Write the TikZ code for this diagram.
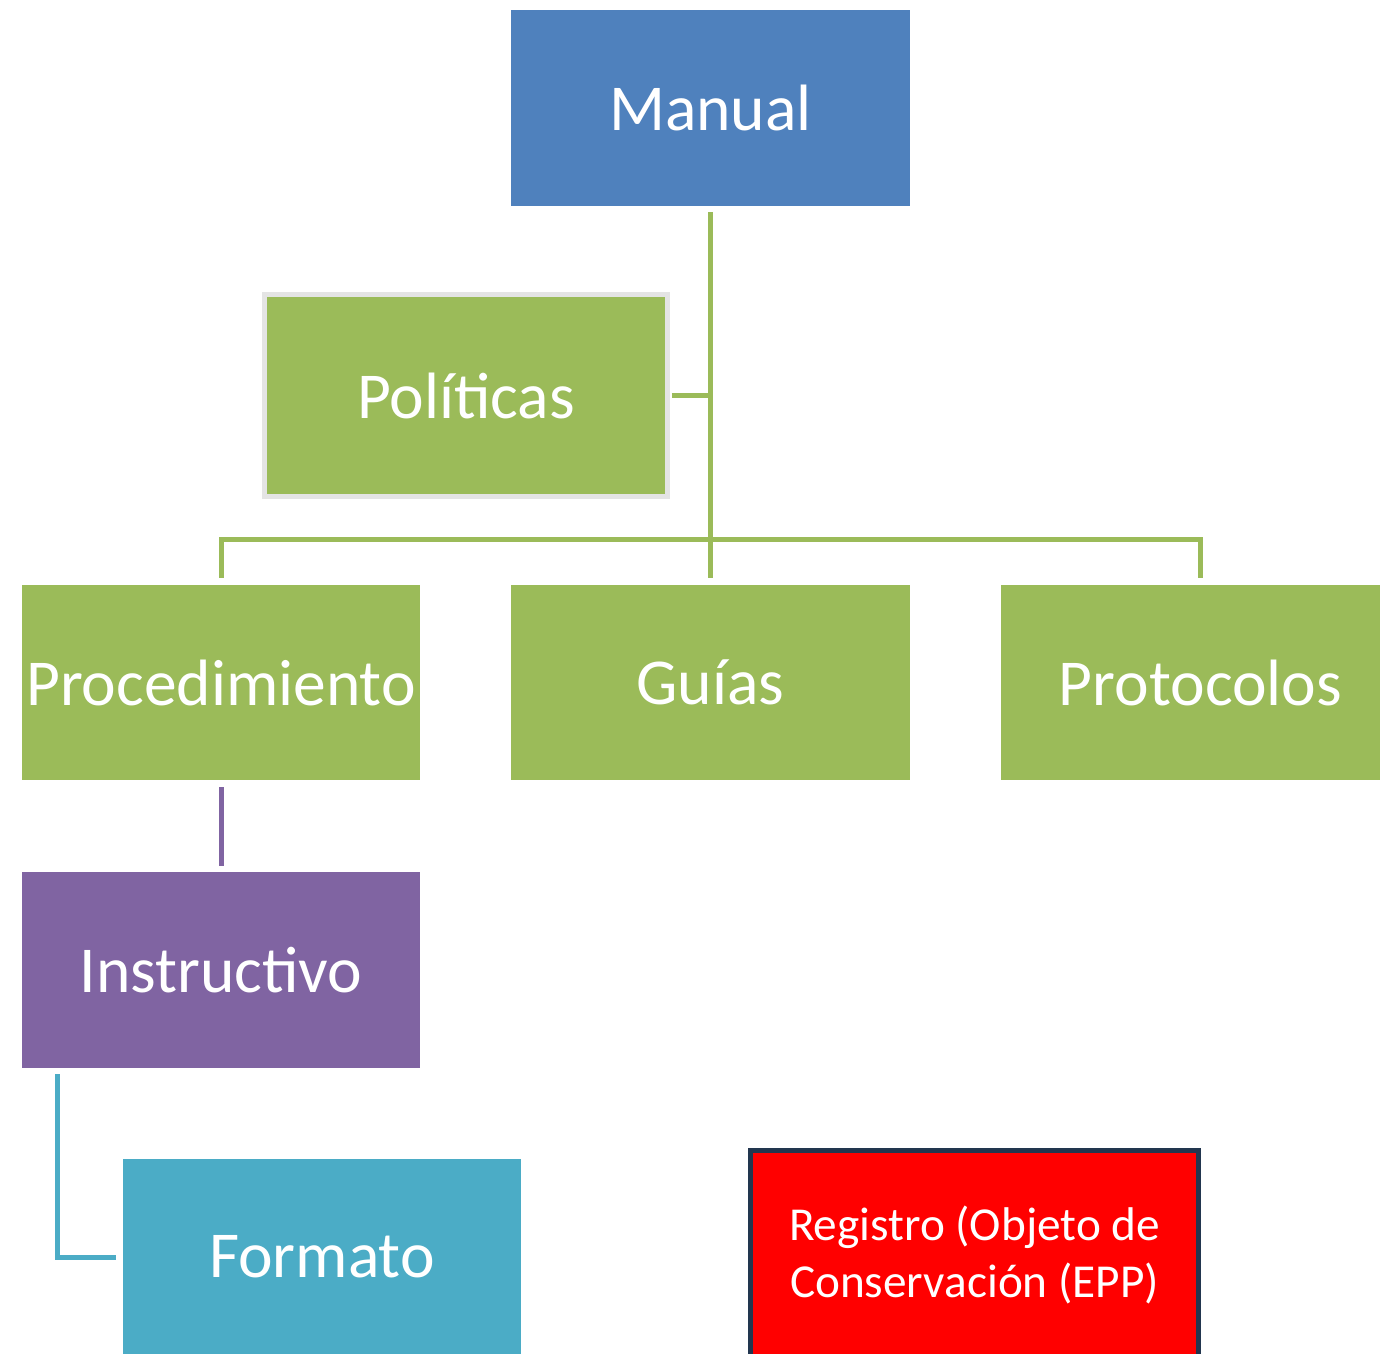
\documentclass[tikz,border=0pt]{standalone}
\usepackage{fontspec}
\setmainfont{Carlito}
\definecolor{cblue}{HTML}{4F81BD}
\definecolor{cgreen}{HTML}{9BBB59}
\definecolor{cpurple}{HTML}{8064A2}
\definecolor{cteal}{HTML}{4BACC6}
\definecolor{cred}{HTML}{FF0000}
\definecolor{cnavy}{HTML}{22364F}
\definecolor{cgray}{HTML}{E4E4E4}
\begin{document}
\begin{tikzpicture}[x=0.02cm,y=-0.02cm,
  box/.style={rectangle,inner sep=0pt,text=white,font=\fontsize{37.3}{44}\selectfont,
    minimum width=7.98cm,minimum height=3.92cm},
  conn/.style={line width=0.1cm,line join=miter}]
\clip (0,0) rectangle (1380,1354);
\fill[white] (0,0) rectangle (1380,1354);
\node[box,fill=cblue] (man) at (710.5,108) {Manual};
\node[box,fill=cgreen,draw=cgray,line width=0.1cm,minimum width=8.06cm,minimum height=4.04cm] (pol) at (466,395.5) {Políticas};
\node[box,fill=cgreen,minimum height=3.9cm] (proc) at (221,682.5) {Procedimiento};
\node[box,fill=cgreen,minimum height=3.9cm] (guias) at (710.5,682.5) {Guías};
\node[box,fill=cgreen,minimum height=3.9cm] (prot) at (1200.5,682.5) {Protocolos};
\node[box,fill=cpurple] (inst) at (221,970) {Instructivo};
\node[box,fill=cteal] (form) at (322,1257) {Formato};
\node[box,fill=cred,draw=cnavy,line width=0.1cm,minimum width=8.96cm,minimum height=4.18cm,
  align=center,font=\fontsize{26.9}{31.9}\selectfont] (reg) at (974.5,1255)
  {Registro (Objeto de\\Conservación (EPP)};
% green connectors
\draw[conn,cgreen] ([yshift=-0.12cm]man.south) -- ([yshift=0.14cm]guias.north);
\draw[conn,cgreen] ([xshift=0.04cm]pol.east) -- (pol.east -| man.south);
\draw[conn,cgreen] ([yshift=0.14cm]proc.north) -- ++(0,-38) -| ([yshift=0.14cm]prot.north);
% purple
\draw[conn,cpurple] ([yshift=-0.14cm]proc.south) -- ([yshift=0.12cm]inst.north);
% teal
\draw[conn,cteal] ([xshift=-3.27cm,yshift=-0.12cm]inst.south) |- ([xshift=-0.12cm]form.west);
\end{tikzpicture}
\end{document}
